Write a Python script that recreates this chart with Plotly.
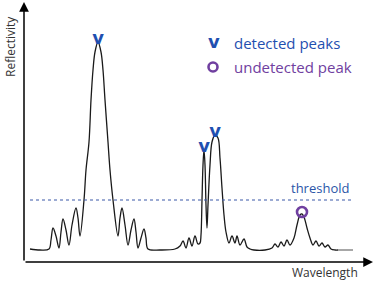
import plotly.graph_objects as go

# Reflectivity spectrum (arbitrary units)
wavelength = [6, 16, 25, 27, 29, 32, 35, 37, 39, 42, 45, 48, 52, 54, 56, 60, 62, 65, 67, 69, 71, 74,
              77, 79, 81, 84, 86, 89, 94, 96, 98, 101, 104, 107, 110, 112, 114, 117, 120, 122, 124,
              136, 151, 156, 159, 162, 165, 168, 171, 174, 176, 177, 178, 179, 180, 181, 182, 183,
              184, 186, 188, 191, 194, 196, 198, 200, 202, 205, 208, 211, 213, 216, 220, 223, 226,
              230, 241, 248, 251, 254, 257, 260, 263, 266, 270, 273, 276, 278, 280, 283, 286, 289,
              292, 295, 298, 301, 304, 307, 311, 314]
reflectivity = [13, 12, 13, 22, 34, 26, 14, 30, 43, 32, 17, 37, 54, 44, 26, 62, 92, 120, 162, 192, 210, 220,
                210, 192, 162, 120, 92, 62, 26, 44, 54, 37, 17, 32, 43, 30, 14, 24, 33, 24, 13,
                12, 13, 16, 21, 14, 24, 16, 26, 18, 19, 27, 62, 97, 112, 97, 57, 34,
                57, 97, 120, 127, 124, 104, 74, 47, 30, 19, 26, 19, 26, 17, 23, 15, 13,
                12, 12, 14, 18, 15, 20, 16, 22, 17, 24, 37, 47, 48, 45, 34, 24, 17,
                21, 16, 19, 15, 17, 13, 12, 12]
tail_wavelength = [314, 329]
tail_reflectivity = [12, 12]

detected_x = [74, 180, 191]
detected_y = [214, 106, 121]
undetected_x = [278]
undetected_y = [50]

threshold = 62
threshold_span = [6, 330]

BLUE = "#1f4fb0"
PURPLE = "#7040a0"
FONT = "Open Sans"
VFONT = "DejaVu Sans"

fig = go.Figure()
fig.add_trace(go.Scatter(x=wavelength, y=reflectivity, mode="lines",
                         line=dict(color="#1a1a1a", width=1.3, shape="spline", smoothing=1.0),
                         hoverinfo="skip"))
fig.add_trace(go.Scatter(x=tail_wavelength, y=tail_reflectivity, mode="lines",
                         line=dict(color="#8a8a8a", width=1.5), hoverinfo="skip"))
fig.add_trace(go.Scatter(x=threshold_span, y=[threshold, threshold], mode="lines",
                         line=dict(color="#3a58a8", width=1.2, dash="dot"), hoverinfo="skip"))
fig.add_trace(go.Scatter(x=detected_x, y=detected_y, mode="text", text=["v"] * len(detected_x),
                         textposition="top center",
                         textfont=dict(family=VFONT, size=18, color=BLUE, weight="bold"),
                         hoverinfo="skip"))
fig.add_trace(go.Scatter(x=undetected_x, y=undetected_y, mode="markers",
                         marker=dict(symbol="circle-open", size=10, color=PURPLE,
                                     line=dict(width=2.6, color=PURPLE)),
                         hoverinfo="skip"))

annotations = [
    # axis arrows
    dict(x=0, y=260, ax=0, ay=0, xref="x", yref="y", axref="x", ayref="y", text="",
         showarrow=True, arrowhead=2, arrowsize=1.3, arrowwidth=1.5, arrowcolor="black"),
    dict(x=349, y=0, ax=0, ay=0, xref="x", yref="y", axref="x", ayref="y", text="",
         showarrow=True, arrowhead=2, arrowsize=1.3, arrowwidth=1.5, arrowcolor="black"),
    # axis titles
    dict(x=-14, y=215, xref="x", yref="y", text="Reflectivity", showarrow=False, textangle=-90,
         font=dict(family=FONT, size=12, color="#333333")),
    dict(x=301, y=-10, xref="x", yref="y", text="Wavelength", showarrow=False,
         font=dict(family=FONT, size=12, color="#333333")),
    # threshold label
    dict(x=296, y=74, xref="x", yref="y", text="threshold", showarrow=False,
         font=dict(family=FONT, size=13, color="#2a55a8")),
    # legend
    dict(x=190, y=221, xref="x", yref="y", text="<b>v</b>", showarrow=False,
         font=dict(family=VFONT, size=18, color=BLUE)),
    dict(x=208, y=219, xref="x", yref="y", text="detected peaks", showarrow=False, xanchor="left",
         font=dict(family=FONT, size=15, color=BLUE)),
    dict(x=208, y=195, xref="x", yref="y", text="undetected peak", showarrow=False, xanchor="left",
         font=dict(family=FONT, size=15, color=PURPLE)),
]

shapes = [
    dict(type="circle", xref="x", yref="y", x0=184.5, x1=193.5, y0=190.5, y1=199.5,
         line=dict(color=PURPLE, width=2.6)),
]

fig.update_layout(
    width=375, height=284,
    margin=dict(l=0, r=0, t=0, b=0),
    paper_bgcolor="white", plot_bgcolor="white",
    showlegend=False,
    xaxis=dict(range=[-24, 351], visible=False, fixedrange=True),
    yaxis=dict(range=[-22, 262], visible=False, fixedrange=True),
    annotations=annotations, shapes=shapes,
)

fig.write_html("out.html")
